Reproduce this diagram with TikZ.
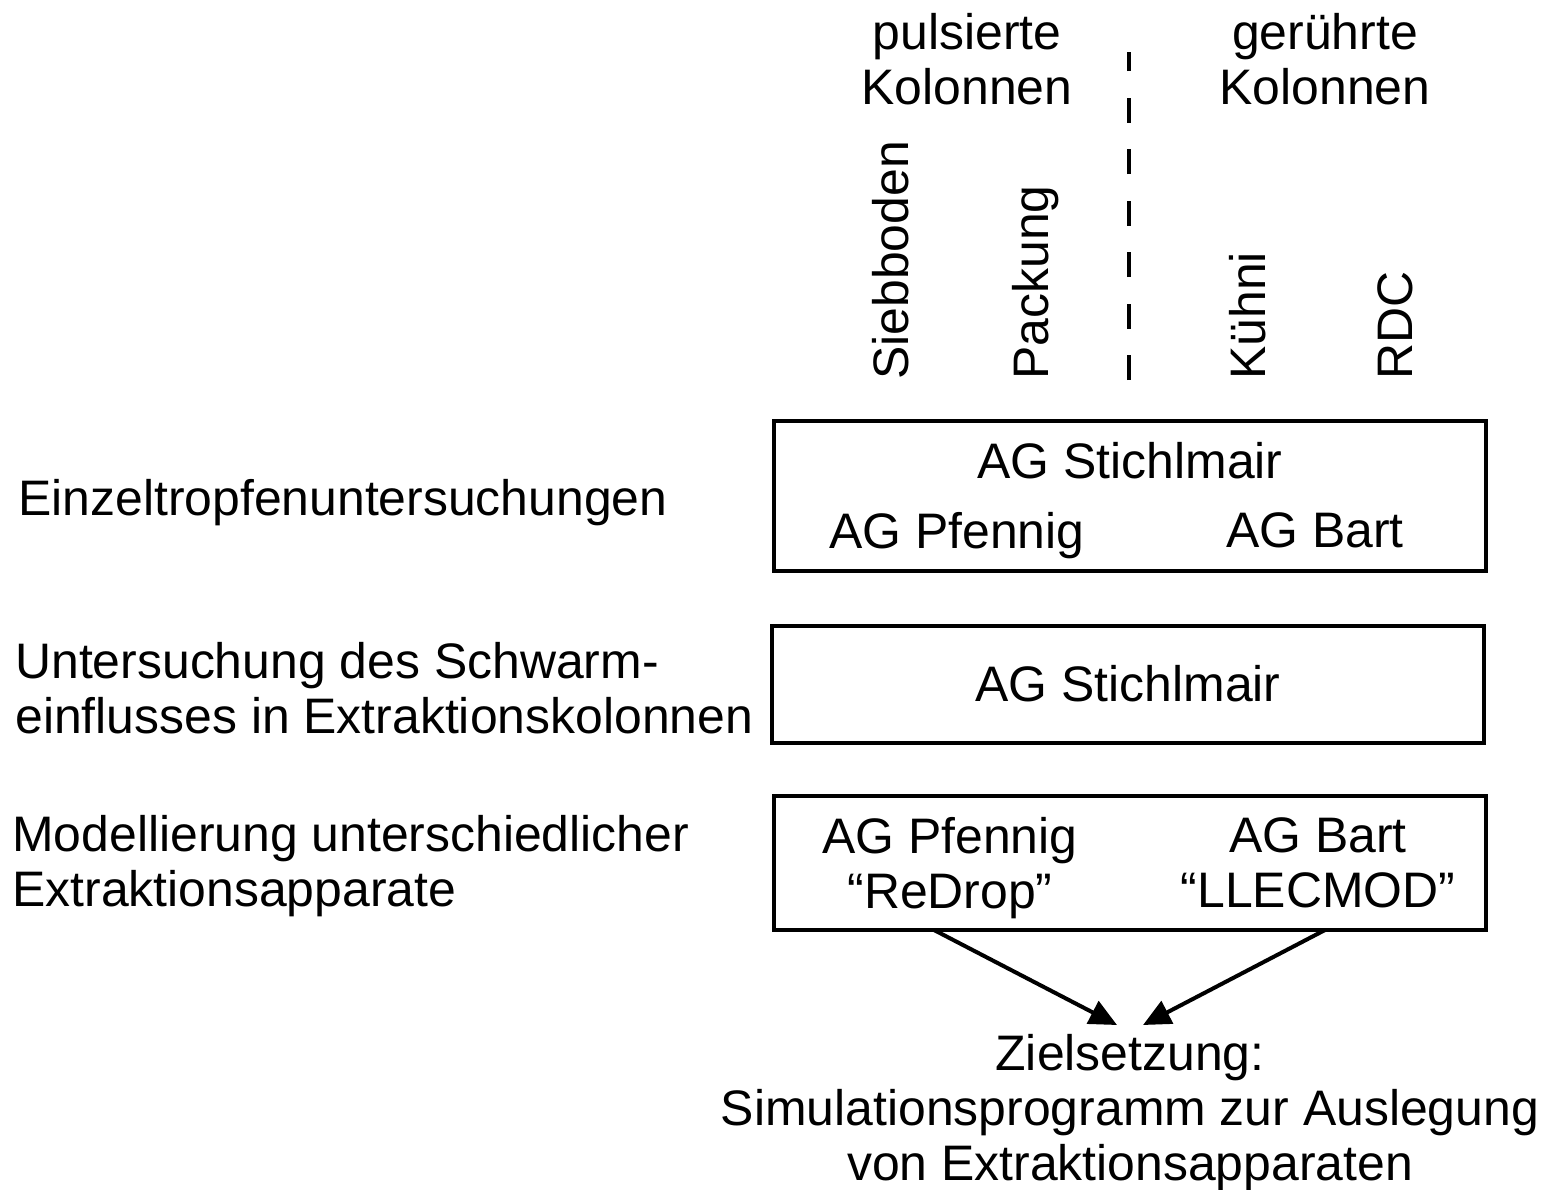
\documentclass[tikz,border=0pt]{standalone}
\usepackage{fontspec}
\setmainfont{Liberation Sans}
\usetikzlibrary{arrows.meta,positioning}
\tikzset{
    diag base/.style={font=\fontsize{28.4}{31.3}\selectfont, inner sep=0pt},
    diag title/.style={diag base, align=center, anchor=north},
    diag col/.style={diag base, rotate=90, anchor=base west},
    diag row/.style={diag base, align=left, anchor=north west},
    diag group/.style={diag base, align=center, anchor=north},
    diag box/.style={
        draw=black,
        line width=0.08cm,
        minimum width=14.24cm
    },
    diag split/.style={line width=0.09cm, dash pattern=on 0.5cm off 0.53cm},
    diag arrow/.style={-{Triangle[length=0.55cm,width=0.5cm]}, line width=0.08cm}
}

\begin{document}
\begin{tikzpicture}[x=0.02cm, y=-0.02cm]
\useasboundingbox (0,0) rectangle (1547,1189);

% Column headings
\node[diag title] (puls) at (967,13) {pulsierte\\Kolonnen};
\node[diag title] (ruehr) at (1325,13) {gerührte\\Kolonnen};
\node[diag col] (sieb) at (908,380) {Siebboden};
\node[diag col] (pack) at (1048,380) {Packung};
\node[diag col] (kuehni) at (1265,380) {Kühni};
\node[diag col] (rdc) at (1412,380) {RDC};
\coordinate (splittop) at (1129,52);
\coordinate (splitbot) at (1129,380);
\draw[diag split] (splitbot) -- (splittop);

% Row labels
\node[diag row] (einzel) at (18,479) {Einzeltropfenuntersuchungen};
\node[diag row] (schwarm) at (15,642) {Untersuchung des Schwarm-\\einflusses in Extraktionskolonnen};
\node[diag row] (modell) at (12,815) {Modellierung unterschiedlicher\\Extraktionsapparate};

% Working groups
\node[diag box, minimum height=3cm] (box1) at (1130,496) {};
\node[diag group] (stich1) at (1130,442) {AG Stichlmair};
\node[diag group] (pfen1) at (957,512) {AG Pfennig};
\node[diag group] (bart1) at (1315,512) {AG Bart};

\node[diag box, minimum height=2.34cm] (box2) at (1128,684.5) {};
\node[diag group] (stich2) at (1128,665) {AG Stichlmair};

\node[diag box, minimum height=2.68cm] (box3) at (1130,863) {};
\node[diag group] (pfen3) at (950,817) {AG Pfennig\\“ReDrop”};
\node[diag group] (bart3) at (1318,817) {AG Bart\\“LLECMOD”};

% Goal
\node[diag title] (ziel) at (1130,1034) {Zielsetzung:\\Simulationsprogramm zur Auslegung\\von Extraktionsapparaten};
\coordinate (srcL) at (934,930);
\coordinate (srcR) at (1325,930);
\coordinate (tipL) at (1117,1025);
\coordinate (tipR) at (1143,1025);
\draw[diag arrow] (srcL) -- (tipL);
\draw[diag arrow] (srcR) -- (tipR);
\end{tikzpicture}
\end{document}
